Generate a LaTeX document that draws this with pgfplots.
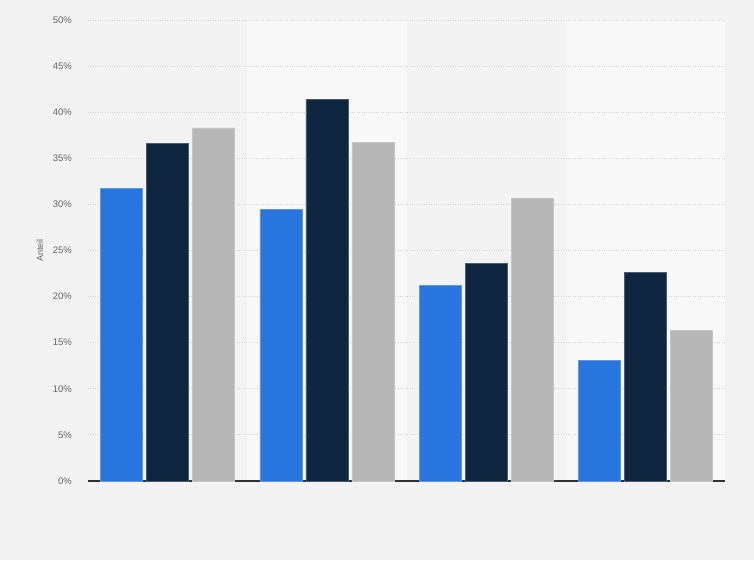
\documentclass[border=0pt]{standalone}
\usepackage{pgfplots}
\pgfplotsset{compat=1.18}
\usepackage{fontspec}
\setmainfont{Liberation Sans}

\definecolor{pagebg}{HTML}{F3F3F3}
\definecolor{bandbg}{HTML}{F8F8F8}
\definecolor{gridcol}{HTML}{D6D6D6}
\definecolor{textcol}{HTML}{666666}
\definecolor{barblue}{HTML}{2876DD}
\definecolor{barnavy}{HTML}{0F2640}
\definecolor{bargray}{HTML}{B7B7B7}

\begin{document}
\begin{tikzpicture}
% Seitenhintergrund und helle Bänder (Gruppe 2 und 4)
\fill[pagebg] (-88pt,-79pt) rectangle (666pt,481pt);
\fill[bandbg] (159.25pt,0pt) rectangle (318.5pt,461pt);
\fill[bandbg] (477.75pt,0pt) rectangle (637pt,461pt);

\begin{axis}[
    scale only axis,
    width=637pt,
    height=461pt,
    ybar=4pt,
    bar width=42pt,
    xmin=-0.5, xmax=3.5,
    ymin=0, ymax=50,
    xtick=\empty,
    ytick={0,5,...,50},
    yticklabels={0\%,5\%,10\%,15\%,20\%,25\%,30\%,35\%,40\%,45\%,50\%},
    major tick length=0pt,
    axis x line*=bottom,
    axis y line*=left,
    y axis line style={draw=none},
    x axis line style={draw=black!80, line width=1.2pt, -},
    ymajorgrids,
    grid style={gridcol, dotted, line width=0.9pt},
    yticklabel style={font=\fontsize{9.5}{11}\selectfont, text=textcol, inner sep=0pt, xshift=-16pt},
    ylabel={Anteil},
    every axis y label/.style={at={(axis description cs:-0.0754,0.5)}, rotate=90, anchor=center,
        font=\fontsize{9}{11}\selectfont, text=textcol},
]

\addplot[fill=barblue, draw=barblue!75!white, line width=0.5pt] coordinates {
    (0, 31.7) (1, 29.5) (2, 21.2) (3, 13.1)
};
\addplot[fill=barnavy, draw=barnavy!75!white, line width=0.5pt] coordinates {
    (0, 36.6) (1, 41.4) (2, 23.6) (3, 22.6)
};
\addplot[fill=bargray, draw=bargray!80!white, line width=0.5pt] coordinates {
    (0, 38.3) (1, 36.7) (2, 30.7) (3, 16.3)
};

\end{axis}
\end{tikzpicture}
\end{document}
